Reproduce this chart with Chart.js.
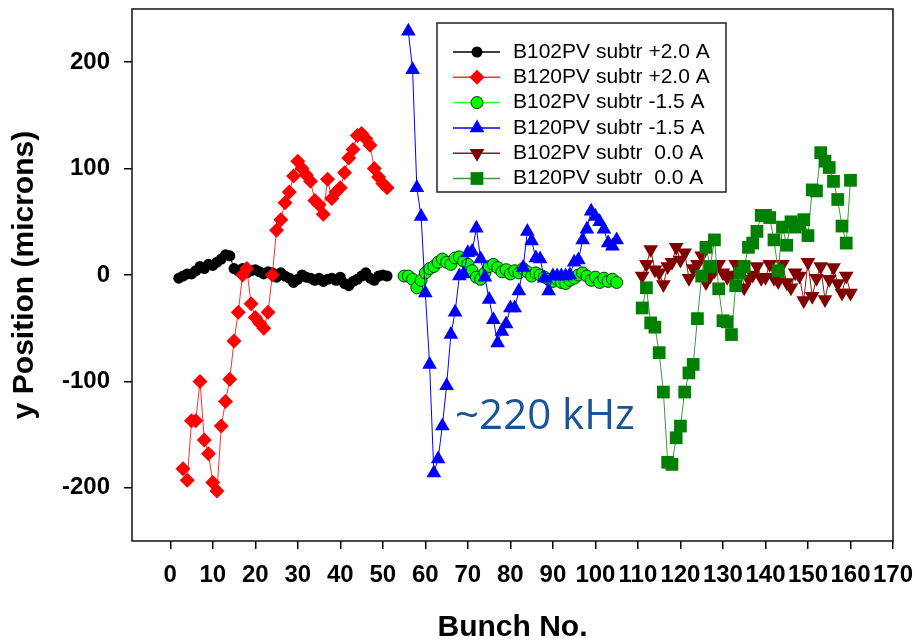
<!DOCTYPE html>
<html>
<head>
<meta charset="utf-8">
<script src="https://cdn.jsdelivr.net/npm/chart.js@4.4.1/dist/chart.umd.min.js"></script>
<style>
  html, body { margin: 0; padding: 0; background: #fff; }
  #wrap { width: 915px; height: 640px; }
</style>
</head>
<body>
<div id="wrap"><canvas id="bpmChart" width="915" height="640"></canvas></div>
<script>
(function() {
  'use strict';

  // bunch numbers for each run
  var bunchPlus = [2, 3, 4, 5, 6, 7, 8, 9, 10, 11, 12, 13, 14, 15, 16, 17, 18, 19, 20, 21, 22, 23, 24, 25, 26,
    27, 28, 29, 30, 31, 32, 33, 34, 35, 36, 37, 38, 39, 40, 41, 42, 43, 44, 45, 46, 47, 48, 49, 50, 51];
  var bunchPlus120 = [3, 4, 5, 6, 7, 8, 9, 10, 11, 12, 13, 14, 15, 16, 17, 18, 19, 20, 21, 22, 23, 24, 25, 26,
    27, 28, 29, 30, 31, 32, 33, 34, 35, 36, 37, 38, 39, 40, 41, 42, 43, 44, 45, 46, 47, 48, 49, 50, 51];
  var bunchMinus102 = [55, 56, 57, 58, 59, 60, 61, 62, 63, 64, 65, 66, 67, 68, 69, 70, 71, 72, 73, 74, 75, 76, 77,
    78, 79, 80, 81, 82, 83, 84, 85, 86, 87, 88, 89, 90, 91, 92, 93, 94, 95, 96, 97, 98, 99, 100, 101, 102, 103, 104, 105];
  var bunchMinus120 = [56, 57, 58, 59, 60, 61, 62, 63, 64, 65, 66, 67, 68, 69, 70, 71, 72, 73, 74, 75, 76, 77,
    78, 79, 80, 81, 82, 83, 84, 85, 86, 87, 88, 89, 90, 91, 92, 93, 94, 95, 96, 97, 98, 99, 100, 101, 102, 103, 104, 105];
  var bunchZero = [111, 112, 113, 114, 115, 116, 117, 118, 119, 120, 121, 122, 123, 124, 125, 126, 127, 128, 129,
    130, 131, 132, 133, 134, 135, 136, 137, 138, 139, 140, 141, 142, 143, 144, 145, 146, 147, 148, 149, 150, 151,
    152, 153, 154, 155, 156, 157, 158, 159, 160];

  // y position (microns)
  var b102Plus20 = [-3, -1, 1, 1, 4, 8, 6, 10, 9, 12, 15, 19, 18, 6, 4, 6, 2, 4, 5, 3, 1, 3, 2, -2, 2,
    -1, -3, -7, -4, 0, -2, -3, -5, -3, -6, -4, -3, -5, -2, -8, -10, -6, -4, -1, 2, -3, -5, -1, 0, -1];
  var b120Plus20 = [-182, -193, -137, -137, -100, -155, -168, -195, -203, -142, -119, -98, -62, -35, 0, 6,
    -27, -40, -45, -50, -35, 0, 42, 52, 68, 78, 93, 107, 100, 94, 88, 70, 66, 57, 90, 72, 78, 82, 96, 110,
    118, 131, 133, 128, 122, 100, 92, 86, 82];
  var b102Minus15 = [-1, -1, -4, -12, -5, 2, 6, 8, 12, 15, 12, 10, 16, 17, 13, 10, 4, -2, -4, 2, 8, 10, 7, 3, 5,
    1, 4, 2, 6, 3, -1, 2, 0, -2, -4, -6, -4, -7, -8, -5, -3, 0, 2, -1, -5, -2, -7, -3, -6, -4, -7];
  var b120Minus15 = [229, 193, 82, 55, -17, -84, -186, -173, -142, -104, -56, -35, -1, 1, 21, 22, 44, 15, -2, -23,
    -42, -64, -53, -46, -31, -31, -15, 7, 41, 32, 16, 15, -3, -15, -1, -1, -1, -1, 0, 12,
    14, 33, 43, 60, 55, 50, 43, 30, 27, 33];
  var b102Zero = [-1, 10, 24, 5, 2, -9, 8, 12, 26, 14, 21, -3, 6, 10, 18, -7, -1, 4, 10, 2, -2, 0, 10, 10, -12,
    -4, 0, 8, -3, -2, 10, -3, -6, 10, -7, -12, 2, -1, -24, 12, -20, -3, 8, -23, -4, 7, -8, -17, -1, -17];
  var b120Zero = [-31, -12, -45, -49, -73, -110, -176, -178, -153, -142, -110, -92, -84, -41, -1, 26, 8, 33, -13, -43,
    -44, -56, -10, 2, 8, 26, 30, 41, 56, 56, 54, 33, 4, 45, 28, 50, 45, 48, 52, 37,
    80, 79, 115, 107, 101, 88, 71, 46, 30, 89];

  var seriesLabels = ['B102PV subtr +2.0 A', 'B120PV subtr +2.0 A', 'B102PV subtr -1.5 A',
    'B120PV subtr -1.5 A', 'B102PV subtr  0.0 A', 'B120PV subtr  0.0 A'];

  var xTicks = [0, 10, 20, 30, 40, 50, 60, 70, 80, 90, 100, 110, 120, 130, 140, 150, 160, 170];
  var yTicks = [-200, -100, 0, 100, 200];

  var noteText = '~220 kHz';
  var noteAt = { x: 67, y: -145 };

  function pts(xs, ys) {
    return xs.map(function(x, i) { return { x: x, y: ys[i] }; });
  }

  function series(idx, xs, ys, line, fill, edge, style, radius, rotation) {
    return {
      label: seriesLabels[idx],
      data: pts(xs, ys),
      borderColor: line,
      borderWidth: 1,
      backgroundColor: fill,
      pointBackgroundColor: fill,
      pointBorderColor: edge,
      pointBorderWidth: edge ? 1 : 0,
      pointStyle: style,
      pointRadius: radius,
      pointRotation: rotation || 0,
      tension: 0,
      fill: false,
      clip: false,
      order: 6 - idx
    };
  }

  // keep the axes from reserving room for overhanging labels
  function noPad(scale) {
    scale.paddingTop = 0;
    scale.paddingBottom = 0;
    scale.paddingLeft = 0;
    scale.paddingRight = 0;
  }

  var axisFont = { family: '"Liberation Sans", Arial, sans-serif', size: 24, weight: 'bold' };
  var titleFont = { family: '"Liberation Sans", Arial, sans-serif', size: 30, weight: 'bold', lineHeight: 0.8 };

  var boxPlugin = {
    id: 'boxAndLegend',
    afterDraw: function(chart) {
      var ctx = chart.ctx;
      var area = chart.chartArea;
      ctx.save();
      ctx.strokeStyle = '#111';
      ctx.lineWidth = 1.5;
      ctx.strokeRect(area.left, area.top, area.right - area.left, area.bottom - area.top);

      // legend box
      var lx = 437, ly = 23, lw = 289, lh = 169;
      ctx.fillStyle = '#fff';
      ctx.fillRect(lx, ly, lw, lh);
      ctx.strokeStyle = '#222';
      ctx.lineWidth = 1.5;
      ctx.strokeRect(lx, ly, lw, lh);
      ctx.font = '21px "Liberation Sans", Arial, sans-serif';
      ctx.textBaseline = 'middle';
      ctx.textAlign = 'left';
      chart.data.datasets.forEach(function(ds, i) {
        var rowY = 52 + i * 25.3;
        ctx.strokeStyle = ds.borderColor;
        ctx.lineWidth = 1.5;
        ctx.beginPath();
        ctx.moveTo(453, rowY);
        ctx.lineTo(500, rowY);
        ctx.stroke();
        ctx.fillStyle = ds.pointBackgroundColor;
        ctx.strokeStyle = ds.pointBorderColor || ds.pointBackgroundColor;
        ctx.lineWidth = ds.pointBorderWidth;
        Chart.helpers.drawPoint(ctx, {
          pointStyle: ds.pointStyle,
          radius: ds.pointRadius,
          rotation: ds.pointRotation,
          borderWidth: ds.pointBorderWidth
        }, 477, rowY);
        ctx.fillStyle = '#000';
        ctx.fillText(ds.label, 513, rowY);
      });

      // frequency note
      ctx.fillStyle = '#1b5494';
      ctx.font = '42px "Open Sans", "Noto Sans", sans-serif';
      ctx.textBaseline = 'alphabetic';
      ctx.fillText(noteText, chart.scales.x.getPixelForValue(noteAt.x), chart.scales.y.getPixelForValue(noteAt.y));
      ctx.restore();
    }
  };

  var ctx = document.getElementById('bpmChart').getContext('2d');
  new Chart(ctx, {
    type: 'line',
    data: {
      datasets: [
        series(0, bunchPlus, b102Plus20, '#000000', '#000000', null, 'circle', 5.5),
        series(1, bunchPlus120, b120Plus20, '#ff3030', '#ff0000', null, 'rectRot', 7.5),
        series(2, bunchMinus102, b102Minus15, '#30ff30', '#00ff00', '#003300', 'circle', 6),
        series(3, bunchMinus120, b120Minus15, '#0000ff', '#0000ff', null, 'triangle', 8.5),
        series(4, bunchZero, b102Zero, '#8b1a1a', '#800000', null, 'triangle', 8.5, 180),
        series(5, bunchZero, b120Zero, '#3c9a3c', '#008000', null, 'rect', 9)
      ]
    },
    options: {
      responsive: false,
      animation: false,
      devicePixelRatio: 1,
      layout: { padding: { left: 0, right: 22, top: 8, bottom: 0 } },
      plugins: {
        legend: { display: false },
        tooltip: { enabled: false }
      },
      scales: {
        x: {
          type: 'linear',
          position: 'bottom',
          min: -9,
          max: 170,
          afterBuildTicks: function(scale) {
            scale.ticks = xTicks.map(function(v) { return { value: v }; });
          },
          afterFit: function(scale) { scale.height = 99; noPad(scale); },
          border: { display: false },
          grid: { drawOnChartArea: false, drawTicks: true, tickLength: 8, color: '#000', lineWidth: 1.5 },
          ticks: { autoSkip: false, maxRotation: 0, minRotation: 0, padding: 12, color: '#000', font: axisFont },
          title: { display: true, text: 'Bunch No.', color: '#000', font: titleFont, padding: 0 }
        },
        y: {
          type: 'linear',
          position: 'left',
          min: -250,
          max: 250,
          afterBuildTicks: function(scale) {
            scale.ticks = yTicks.map(function(v) { return { value: v }; });
          },
          afterFit: function(scale) { scale.width = 132; noPad(scale); },
          border: { display: false },
          grid: { drawOnChartArea: false, drawTicks: true, tickLength: 8, color: '#000', lineWidth: 1.5 },
          ticks: { padding: 14, color: '#000', font: axisFont },
          title: { display: true, text: 'y Position (microns)', color: '#000', font: titleFont, padding: { top: 13, bottom: 0 } }
        }
      }
    },
    plugins: [boxPlugin]
  });
})();
</script>
</body>
</html>
